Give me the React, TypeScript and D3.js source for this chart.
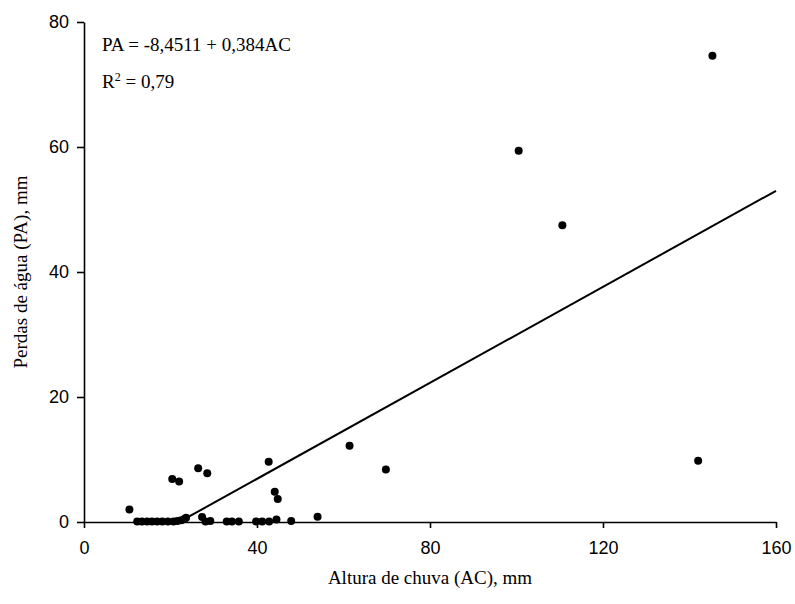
import { useEffect, useRef } from 'react';
import * as d3 from 'd3';

const [W, H] = [795, 604];
const margin = { top: 22, right: 19, bottom: 82, left: 84 };

// Altura de chuva (AC), mm
const rainfall = [
  10.5, 12.3, 13.4, 14.6, 15.7, 16.9, 18.1, 19.4,
  20.4, 22.0, 20.7, 21.6, 22.5, 23.2, 23.6,
  26.4, 28.5, 27.3, 28.1, 29.2,
  33.0, 34.2, 35.8, 39.8, 41.2, 42.8, 44.5,
  42.7, 44.1, 44.8, 47.9, 54.0,
  61.4, 69.8, 100.5, 110.6, 142.0, 145.3,
];
// Perdas de água (PA), mm
const losses = [
  2.0, 0.1, 0.1, 0.1, 0.1, 0.1, 0.1, 0.1,
  6.9, 6.5, 0.1, 0.15, 0.3, 0.5, 0.7,
  8.6, 7.8, 0.8, 0.1, 0.15,
  0.1, 0.1, 0.1, 0.1, 0.1, 0.1, 0.4,
  9.65, 4.85, 3.7, 0.15, 0.85,
  12.2, 8.4, 59.4, 47.5, 9.8, 74.6,
];

const xTicks = [0, 40, 80, 120, 160];
const yTicks = [0, 20, 40, 60, 80];
const intercept = -8.4511;
const slope = 0.384;
const fitRange = [23.6, 160];

function App() {
  const svgRef = useRef<SVGSVGElement>(null);

  useEffect(() => {
    if (!svgRef.current) return;
    const svg = d3.select(svgRef.current);
    svg.selectAll('*').remove();

    const x = d3.scaleLinear().domain([0, 160]).range([margin.left, W - margin.right]);
    const y = d3.scaleLinear().domain([0, 80]).range([H - margin.bottom, margin.top]);

    const tickFont = '"Liberation Sans", Arial, sans-serif';
    const serif = '"Liberation Serif", "Times New Roman", serif';

    const xAxis = svg.append('g')
      .attr('transform', `translate(0,${H - margin.bottom})`)
      .call(d3.axisBottom(x).tickValues(xTicks).tickSize(6).tickPadding(13).tickSizeOuter(0));
    const yAxis = svg.append('g')
      .attr('transform', `translate(${margin.left},0)`)
      .call(d3.axisLeft(y).tickValues(yTicks).tickSize(7).tickPadding(8).tickSizeOuter(0));

    [xAxis, yAxis].forEach(a => {
      a.select('.domain').attr('stroke', '#000').attr('stroke-width', 1.6);
      a.selectAll('.tick line').attr('stroke', '#000').attr('stroke-width', 1.6);
      a.selectAll('.tick text')
        .attr('fill', '#000')
        .style('font-family', tickFont)
        .style('font-size', '18px');
    });

    const pts = rainfall.map((r, i) => [r, losses[i]]);
    svg.append('g')
      .selectAll('circle')
      .data(pts)
      .enter()
      .append('circle')
      .attr('cx', d => x(d[0]))
      .attr('cy', d => y(d[1]))
      .attr('r', 4)
      .attr('fill', '#000');

    const line = d3.line<number>()
      .x(d => x(d))
      .y(d => y(intercept + slope * d));
    svg.append('path')
      .attr('d', line(fitRange))
      .attr('fill', 'none')
      .attr('stroke', '#000')
      .attr('stroke-width', 2);

    svg.append('text')
      .attr('x', 102)
      .attr('y', 51)
      .style('font-family', serif)
      .style('font-size', '19px')
      .text('PA = -8,4511 + 0,384AC');

    const r2 = svg.append('text')
      .attr('x', 102)
      .attr('y', 88)
      .style('font-family', serif)
      .style('font-size', '19px');
    r2.append('tspan').text('R');
    r2.append('tspan').attr('dy', -7).style('font-size', '12px').text('2');
    r2.append('tspan').attr('dy', 7).text(' = 0,79');

    svg.append('text')
      .attr('x', (margin.left + W - margin.right) / 2)
      .attr('y', 584)
      .attr('text-anchor', 'middle')
      .style('font-family', serif)
      .style('font-size', '19px')
      .text('Altura de chuva (AC), mm');

    svg.append('text')
      .attr('transform', `translate(27,${(margin.top + H - margin.bottom) / 2}) rotate(-90)`)
      .attr('text-anchor', 'middle')
      .style('font-family', serif)
      .style('font-size', '19px')
      .text('Perdas de água (PA), mm');
  }, []);

  return (
    <div style={{ position: 'absolute', left: 0, top: 0 }}>
      <svg ref={svgRef} width={W} height={H} style={{ display: 'block', background: '#fff' }} />
    </div>
  );
}

export default App;
